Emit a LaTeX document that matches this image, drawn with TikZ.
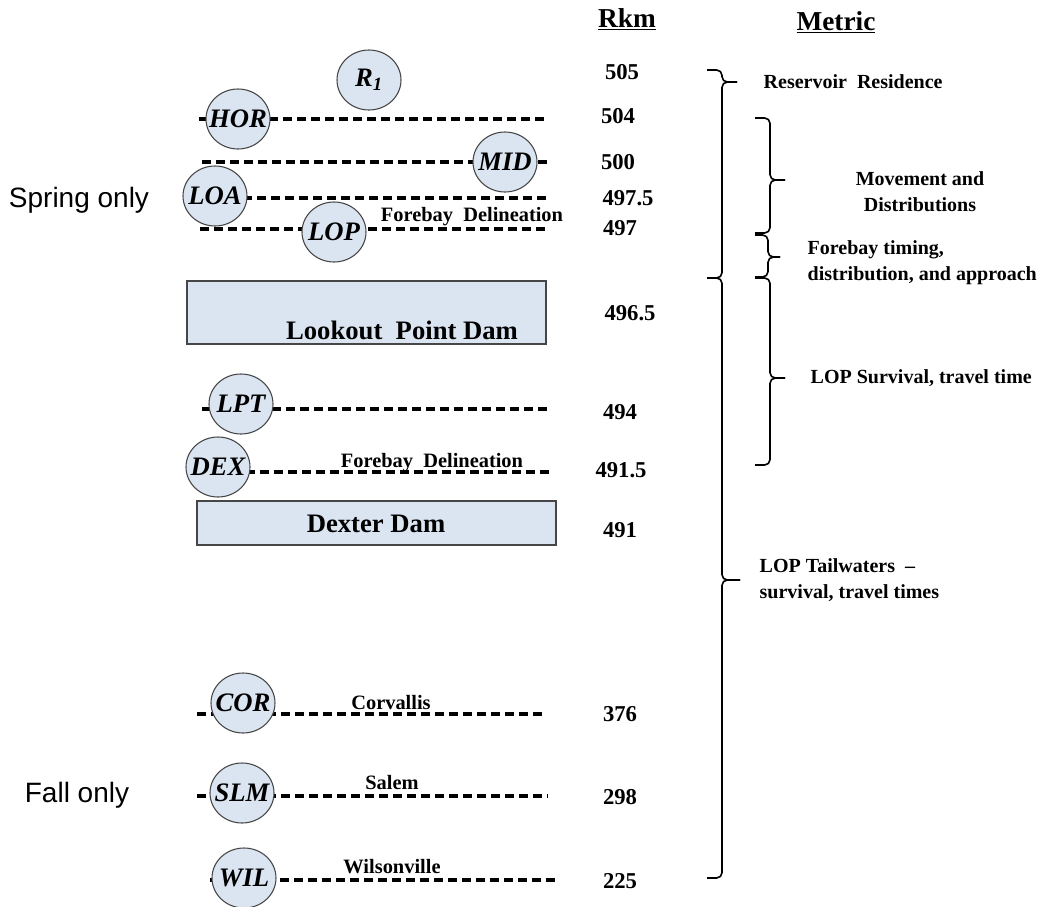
\documentclass[tikz,border=0pt]{standalone}
\usepackage{fontspec}
\setmainfont{Liberation Serif}
\newfontfamily\arialfont{Liberation Sans}
\usetikzlibrary{shapes.geometric}
\definecolor{boxblue}{RGB}{219,228,241}
\definecolor{edgegray}{RGB}{70,70,70}
\tikzset{
  station/.style={ellipse,draw=edgegray,line width=0.8pt,fill=boxblue,minimum width=48pt,minimum height=45pt,inner xsep=-5.5pt,inner ysep=0pt,font=\fontsize{20}{22}\selectfont\bfseries\itshape},
  reach/.style={line width=2.5pt,dash pattern=on 7pt off 3.5pt},
  dambox/.style={draw=edgegray,line width=0.8pt,fill=boxblue},
  damlabel/.style={font=\fontsize{20}{22}\selectfont\bfseries},
  rkm/.style={font=\fontsize{17}{19}\selectfont\bfseries},
  metric/.style={font=\fontsize{15}{19.5}\selectfont\bfseries},
  place/.style={font=\fontsize{15.3}{17}\selectfont\bfseries},
  season/.style={font=\fontsize{21}{24}\selectfont\arialfont},
  heading/.style={font=\fontsize{20.5}{23}\selectfont\bfseries},
  bracket/.style={line width=1.2pt,rounded corners=4pt}
}
\begin{document}
\begin{tikzpicture}[x=0.75pt,y=0.75pt]
\useasboundingbox (0,0) rectangle (1051,-907);
% headings
\node[heading] (hrkm) at (627,-19) {\underline{Rkm}};
\node[heading] (hmetric) at (836,-22) {\underline{Metric}};
% seasons
\node[season] (spring) at (79,-200) {Spring only};
\node[season] (fall) at (77,-795) {Fall only};
% dashed reach lines (behind stations)
\coordinate (horL) at (199,-119); \coordinate (horR) at (547,-119);
\coordinate (midL) at (202,-162); \coordinate (midR) at (549,-162);
\coordinate (loaL) at (215,-198); \coordinate (loaR) at (548,-198);
\coordinate (lopL) at (200,-229); \coordinate (lopR) at (546,-229);
\coordinate (lptL) at (202,-409); \coordinate (lptR) at (550,-409);
\coordinate (dexL) at (218,-472); \coordinate (dexR) at (549,-472);
\coordinate (corL) at (197,-714); \coordinate (corR) at (545,-714);
\coordinate (slmL) at (197,-796); \coordinate (slmR) at (548,-796);
\coordinate (wilL) at (210,-880); \coordinate (wilR) at (557,-880);
\foreach \a/\b in {horL/horR,midL/midR,loaL/loaR,lopL/lopR,lptL/lptR,dexL/dexR,corL/corR,slmL/slmR,wilL/wilR}
  \draw[reach] (\a) -- (\b);
% dams
\draw[dambox] (187,-281) rectangle (546,-344);
\node[damlabel] (lopdam) at (402,-330) {Lookout\ \ Point Dam};
\draw[dambox] (197,-501) rectangle (556,-545);
\node[damlabel] (dexdam) at (376,-524) {Dexter Dam};
% stations
\node[station] (R1) at (369,-80) {R\textsubscript{1}};
\node[station] (HOR) at (238,-119) {HOR};
\node[station] (MID) at (505,-162) {MID};
\node[station] (LOA) at (215,-196) {LOA};
\node[station] (LOP) at (334,-232) {LOP};
\node[station] (LPT) at (241,-404) {LPT};
\node[station] (DEX) at (218,-467) {DEX};
\node[station] (COR) at (243,-703) {COR};
\node[station] (SLM) at (242,-793) {SLM};
\node[station] (WIL) at (244,-878) {WIL};
% place labels
\node[place] (fb1) at (472,-217) {Forebay\ \ Delineation};
\node[place] (fb2) at (432,-463) {Forebay\ \ Delineation};
\node[place] (corv) at (391,-703) {Corvallis};
\node[place] (salem) at (392,-783) {Salem};
\node[place] (wils) at (392,-867) {Wilsonville};
% river km
\node[rkm] (k505) at (622,-72) {505};
\node[rkm] (k504) at (618,-116) {504};
\node[rkm] (k500) at (618,-162) {500};
\node[rkm] (k4975) at (628,-198) {497.5};
\node[rkm] (k497) at (620,-228) {497};
\node[rkm] (k4965) at (630,-313) {496.5};
\node[rkm] (k494) at (620,-412) {494};
\node[rkm] (k4915) at (621,-470) {491.5};
\node[rkm] (k491) at (620,-530) {491};
\node[rkm] (k376) at (620,-714) {376};
\node[rkm] (k298) at (620,-797) {298};
\node[rkm] (k225) at (620,-881) {225};
% braces
\draw[bracket] (707,-70) -- (722,-70) -- (722,-82) -- (737,-82);
\draw[bracket] (737,-82) -- (722,-82) -- (722,-278) -- (707,-278);
\draw[bracket] (755,-118) -- (770,-118) -- (770,-180) -- (785,-180);
\draw[bracket] (785,-180) -- (770,-180) -- (770,-233) -- (755,-233);
\draw[bracket] (755,-235) -- (768,-235) -- (768,-257) -- (780,-257);
\draw[bracket] (780,-257) -- (768,-257) -- (768,-277) -- (755,-277);
\draw[bracket] (755,-278) -- (770,-278) -- (770,-378) -- (785,-378);
\draw[bracket] (785,-378) -- (770,-378) -- (770,-465) -- (755,-465);
\draw[bracket] (707,-278) -- (722,-278) -- (722,-580) -- (740,-580);
\draw[bracket] (740,-580) -- (722,-580) -- (722,-878) -- (707,-878);
% metric labels
\node[metric,anchor=west] (mres) at (759,-82) {Reservoir\ \ Residence};
\node[metric,align=center] (mmov) at (920,-192) {Movement and\\Distributions};
\node[metric,align=left,anchor=west] (mfore) at (803,-263) {Forebay timing,\\distribution, and approach};
\node[metric,anchor=west] (msurv) at (806,-378) {LOP Survival, travel time};
\node[metric,align=left,anchor=west] (mtail) at (755,-580) {LOP Tailwaters\ \ --\\survival, travel times};
\end{tikzpicture}
\end{document}
